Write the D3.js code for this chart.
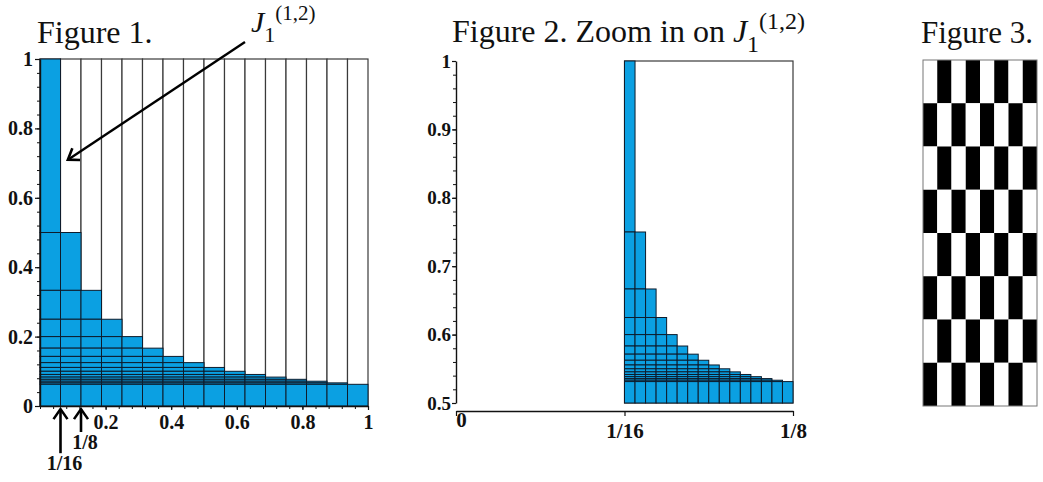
<!DOCTYPE html>
<html>
<head>
<meta charset="utf-8">
<title>Figures 1-3</title>
<script src="https://cdn.jsdelivr.net/npm/d3@7"></script>
<style>
  body { margin: 0; background: #fff; }
  svg text { font-family: 'Liberation Serif', 'Times New Roman', serif; }
</style>
</head>
<body>
<svg id="chart" width="1043" height="482"></svg>
<script>
// ---- data ----
// figure 1: 16 columns of width 1/16, column j is filled up to 1/j
var colEdges = [0, 1/16, 2/16, 3/16, 4/16, 5/16, 6/16, 7/16, 8/16, 9/16, 10/16, 11/16, 12/16, 13/16, 14/16, 15/16, 1];
var colTops = [1, 0.5, 0.3333, 0.25, 0.2, 0.1667, 0.1429, 0.125, 0.1111, 0.1, 0.0909, 0.0833, 0.0769, 0.0714, 0.0667, 0.0625];

// figure 2: the J cell [1/16,1/8] x [0.5,1] split again in 16
var zoomEdges = [16/256, 17/256, 18/256, 19/256, 20/256, 21/256, 22/256, 23/256, 24/256, 25/256, 26/256, 27/256, 28/256, 29/256, 30/256, 31/256, 32/256];
var zoomTops = [1, 0.75, 0.6667, 0.625, 0.6, 0.5833, 0.5714, 0.5625, 0.5556, 0.55, 0.5455, 0.5417, 0.5385, 0.5357, 0.5333, 0.5313];
var zoomBase = 0.5;
var zoomBox = [1/16, 1/8];

// ticks
var fig1YTicks = [0, 0.2, 0.4, 0.6, 0.8, 1];
var fig1XTicks = [0.2, 0.4, 0.6, 0.8, 1];
var fig1Marks = [1/16, 1/8];
var fig1MarkLabels = ["1/16", "1/8"];
var fig2YTicks = [0.5, 0.6, 0.7, 0.8, 0.9, 1];
var fig2XTicks = [0, 1/16, 1/8];
var fig2XLabels = ["0", "1/16", "1/8"];

// figure 3: checkerboard rows (1 = black)
var checker = ["01010101", "10101010", "01010101", "10101010",
               "01010101", "10101010", "01010101", "10101010"];

var BLUE = "#0ba0e2";
var EDGE = "#0e1c2c";

var svg = d3.select("#chart");
var defs = svg.append("defs");

defs.append("marker")
    .attr("id", "head")
    .attr("viewBox", "-12 -9 14 18")
    .attr("markerWidth", 14).attr("markerHeight", 18)
    .attr("markerUnits", "userSpaceOnUse")
    .attr("refX", 0).attr("refY", 0)
    .attr("orient", "auto")
  .append("path")
    .attr("d", "M-10,-7 L0,0 L-10,7")
    .attr("fill", "none").attr("stroke", "#000").attr("stroke-width", 2.6);

function styleAxis(g, size) {
  g.attr("font-family", "'Liberation Serif', serif")
   .attr("font-size", size)
   .attr("font-weight", "bold");
  g.select(".domain").attr("stroke", "#111").attr("stroke-width", 1.4);
  g.selectAll(".tick line").attr("stroke", "#111").attr("stroke-width", 1.2);
  g.selectAll(".tick text").attr("fill", "#111");
}

function minorAxis(g, axis) {
  g.call(axis.tickFormat("").tickSizeOuter(0));
  g.select(".domain").remove();
  g.selectAll(".tick line").attr("stroke", "#111").attr("stroke-width", 1);
}

function jLabel(g, x, y, size, subSize, supSize, subDy, supDy) {
  var t = g.append("text").attr("x", x).attr("y", y).attr("font-size", size).attr("fill", "#111");
  t.append("tspan").attr("font-style", "italic").text("J");
  t.append("tspan").attr("font-size", subSize).attr("dy", subDy).text("1");
  t.append("tspan").attr("font-size", supSize).attr("dy", supDy).text("(1,2)");
  return t;
}

function cellsFor(edges, tops, base) {
  var out = [];
  tops.forEach(function (top, i) {
    var levels = tops.slice(i).concat([base]);
    for (var k = 0; k < levels.length - 1; k++) {
      out.push({ x0: edges[i], x1: edges[i + 1], y0: levels[k + 1], y1: levels[k] });
    }
  });
  return out;
}

// ---- figure 1 ----
(function () {
  var x = d3.scaleLinear().domain([0, 1]).range([40, 368]);
  var y = d3.scaleLinear().domain([0, 1]).range([406, 59]);
  var g = svg.append("g");

  g.append("text").attr("x", 37).attr("y", 43).attr("font-size", 32).attr("fill", "#111").text("Figure 1.");

  // full-height column frames
  g.selectAll("rect.col")
    .data(colTops)
    .enter().append("rect")
      .attr("class", "col")
      .attr("x", function (d, i) { return x(colEdges[i]); })
      .attr("width", function (d, i) { return x(colEdges[i + 1]) - x(colEdges[i]); })
      .attr("y", y(1))
      .attr("height", y(0) - y(1))
      .attr("fill", "#fff")
      .attr("stroke", "#3a3a3a")
      .attr("stroke-width", 1.2);

  g.selectAll("rect.cell")
    .data(cellsFor(colEdges, colTops, 0))
    .enter().append("rect")
      .attr("class", "cell")
      .attr("x", function (d) { return x(d.x0); })
      .attr("width", function (d) { return x(d.x1) - x(d.x0); })
      .attr("y", function (d) { return y(d.y1); })
      .attr("height", function (d) { return y(d.y0) - y(d.y1); })
      .attr("fill", BLUE)
      .attr("stroke", EDGE)
      .attr("stroke-width", 1);

  // axes
  var ya = g.append("g").attr("transform", "translate(" + x(0) + ",0)");
  minorAxis(ya, d3.axisLeft(y).tickValues(d3.range(0, 1.001, 0.04)).tickSize(3));
  var yb = g.append("g").attr("transform", "translate(" + x(0) + ",0)")
    .call(d3.axisLeft(y).tickValues(fig1YTicks).tickSize(5).tickSizeOuter(0).tickPadding(2).tickFormat(String));
  styleAxis(yb, 20);

  var xa = g.append("g").attr("transform", "translate(0," + y(0) + ")");
  minorAxis(xa, d3.axisBottom(x).tickValues(d3.range(0, 1.001, 0.04)).tickSize(3));
  var xb = g.append("g").attr("transform", "translate(0," + y(0) + ")")
    .call(d3.axisBottom(x).tickValues(fig1XTicks).tickSize(4).tickSizeOuter(0).tickPadding(5).tickFormat(String));
  styleAxis(xb, 20);

  // pointer arrows under the axis
  var tails = [-0.136, -0.075];
  fig1Marks.forEach(function (m, i) {
    g.append("line")
      .attr("x1", x(m)).attr("y1", y(tails[i]))
      .attr("x2", x(m)).attr("y2", y(-0.009))
      .attr("stroke", "#000").attr("stroke-width", 2.6)
      .attr("marker-end", "url(#head)");
    g.append("text")
      .attr("x", x(m) + 4).attr("y", y(tails[i]) + 17)
      .attr("text-anchor", "middle")
      .attr("font-size", 20).attr("font-weight", "bold").attr("fill", "#111")
      .text(fig1MarkLabels[i]);
  });

  // arrow to the J cell
  var from = [0.625, 1.049], to = [0.085, 0.71];
  g.append("line")
    .attr("x1", x(from[0])).attr("y1", y(from[1]))
    .attr("x2", x(to[0])).attr("y2", y(to[1]))
    .attr("stroke", "#000").attr("stroke-width", 2.4)
    .attr("marker-end", "url(#head)");
  jLabel(g, x(from[0]) + 6, y(from[1]) - 10, 30, 22, 21, 10, -22);
})();

// ---- figure 2 ----
(function () {
  var x = d3.scaleLinear().domain([0, 0.125]).range([456, 793]);
  var y = d3.scaleLinear().domain([0.5, 1]).range([403, 61]);
  var g = svg.append("g");

  var t = g.append("text").attr("x", 452).attr("y", 42).attr("font-size", 32).attr("fill", "#111");
  t.append("tspan").text("Figure 2. Zoom in on ");
  t.append("tspan").attr("font-style", "italic").text("J");
  t.append("tspan").attr("font-size", 24).attr("dy", 10).text("1");
  t.append("tspan").attr("font-size", 24).attr("dy", -23).text("(1,2)");

  g.append("rect")
    .attr("x", x(zoomBox[0])).attr("width", x(zoomBox[1]) - x(zoomBox[0]))
    .attr("y", y(1)).attr("height", y(zoomBase) - y(1))
    .attr("fill", "#fff").attr("stroke", "#3a3a3a").attr("stroke-width", 1.2);

  g.selectAll("rect.cell")
    .data(cellsFor(zoomEdges, zoomTops, zoomBase))
    .enter().append("rect")
      .attr("class", "cell")
      .attr("x", function (d) { return x(d.x0); })
      .attr("width", function (d) { return x(d.x1) - x(d.x0); })
      .attr("y", function (d) { return y(d.y1); })
      .attr("height", function (d) { return y(d.y0) - y(d.y1); })
      .attr("fill", BLUE)
      .attr("stroke", EDGE)
      .attr("stroke-width", 1);

  var ya = g.append("g").attr("transform", "translate(" + x(0) + ",0)");
  minorAxis(ya, d3.axisLeft(y).tickValues(d3.range(0.5, 1.001, 0.02)).tickSize(3));
  var yb = g.append("g").attr("transform", "translate(" + x(0) + ",0)")
    .call(d3.axisLeft(y).tickValues(fig2YTicks).tickSize(4).tickSizeOuter(0).tickPadding(1).tickFormat(String));
  styleAxis(yb, 19);

  var xb = g.append("g").attr("transform", "translate(0,411)")
    .call(d3.axisBottom(x).tickValues(fig2XTicks).tickSize(5).tickSizeOuter(0).tickPadding(7)
      .tickFormat(function (d, i) { return fig2XLabels[i]; }));
  styleAxis(xb, 21);
  xb.selectAll(".tick text").filter(function (d) { return d === 0; }).attr("x", 5).attr("y", 1);
})();

// ---- figure 3 ----
(function () {
  var g = svg.append("g");
  g.append("text").attr("x", 921).attr("y", 43).attr("font-size", 31).attr("fill", "#111").text("Figure 3.");

  var cols = d3.range(checker[0].length), rows = d3.range(checker.length);
  var x = d3.scaleBand().domain(cols).range([923, 1037]);
  var y = d3.scaleBand().domain(rows).range([60, 406]);

  var cells = [];
  checker.forEach(function (row, r) {
    row.split("").forEach(function (c, k) { cells.push({ r: r, c: k, v: c }); });
  });

  g.selectAll("rect.sq")
    .data(cells)
    .enter().append("rect")
      .attr("x", function (d) { return x(d.c); })
      .attr("y", function (d) { return y(d.r); })
      .attr("width", x.bandwidth())
      .attr("height", y.bandwidth())
      .attr("fill", function (d) { return d.v === "1" ? "#000" : "#fff"; });

  g.append("rect")
    .attr("x", 923).attr("y", 60).attr("width", 114).attr("height", 346)
    .attr("fill", "none").attr("stroke", "#777").attr("stroke-width", 1);
})();
</script>
</body>
</html>
